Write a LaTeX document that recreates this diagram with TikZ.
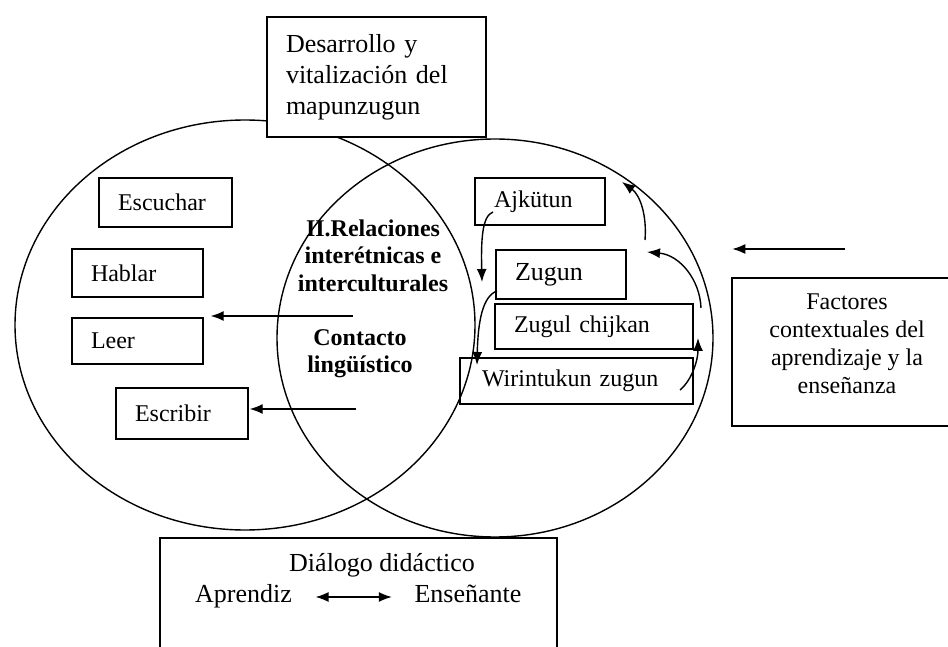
\documentclass[tikz,border=0pt]{standalone}
\usepackage{fontspec}
\setmainfont{Liberation Serif}
\usetikzlibrary{arrows.meta}
\tikzstyle{caja} = [draw, inner xsep=19pt, inner ysep=0pt, align=left, font=\fontsize{24}{28}\selectfont]
\tikzstyle{marco} = [draw, fill=white, inner sep=0pt]
\tikzstyle{texto} = [inner sep=0pt, align=center, font=\fontsize{24}{28}\selectfont]
\tikzstyle{line} = [draw, -{Latex[length=13pt,width=10pt]}]
\tikzstyle{dline} = [draw, {Latex[length=13pt,width=10pt]}-{Latex[length=13pt,width=10pt]}]

\begin{document}
\begin{tikzpicture}[x=1pt, y=1pt, line width=1.4pt]
\useasboundingbox (0,0) rectangle (948,646);
\draw (245,321) ellipse [x radius=230, y radius=205];
\draw (495,308) ellipse [x radius=218, y radius=199];
\node[caja, fill=white, text width=181pt, minimum height=120pt, font=\fontsize{26}{31}\selectfont] (desarrollo) at (376.5,569) {Desarrollo y\\vitalización del\\mapunzugun};
\node[caja, text width=95pt, minimum height=49pt] (escuchar) at (165.5,443.5) {Escuchar};
\node[caja, text width=93pt, minimum height=48pt] (hablar) at (137.5,373) {Hablar};
\node[caja, text width=93pt, minimum height=46pt] (leer) at (137.5,305) {Leer};
\node[caja, text width=94pt, minimum height=51pt] (escribir) at (182,232.5) {Escribir};
\node[texto, font=\bfseries\fontsize{24}{27.5}\selectfont] (relaciones) at (373,390.5) {II.Relaciones\\interétnicas e\\interculturales};
\node[texto, font=\bfseries\fontsize{24}{27.5}\selectfont] (contacto) at (360,292.5) {Contacto\\lingüístico};
\node[caja, text width=92pt, minimum height=47pt] (ajkutun) at (540,444.5) {Ajkütun};
\node[caja, text width=92pt, minimum height=49pt, font=\fontsize{26}{30}\selectfont] (zugun) at (561,371.5) {Zugun};
\node[caja, text width=160pt, minimum height=45pt] (zugul) at (594,319.5) {Zugul chijkan};
\node[caja, text width=189pt, inner xsep=22pt, minimum height=46pt] (wirintukun) at (576.5,265) {Wirintukun zugun};
\node[marco, minimum width=230pt, minimum height=148pt] (factores) at (847,294) {};
\node[texto] (factores-txt) at (847,302.5) {Factores\\contextuales del\\aprendizaje y la\\enseñanza};
\node[marco, minimum width=397pt, minimum height=140pt] (dialogo) at (358.5,38) {};
\node[texto, anchor=base, font=\fontsize{26}{30}\selectfont] (dialogo-txt) at (382,75) {Diálogo didáctico};
\node[texto, anchor=base, font=\fontsize{26}{30}\selectfont] (aprendiz) at (243.5,44) {Aprendiz};
\node[texto, anchor=base, font=\fontsize{26}{30}\selectfont] (ensenante) at (468,44) {Enseñante};
\coordinate (c1) at (353,330);
\coordinate (c2) at (356,237);
\coordinate (f1) at (845,397);
\coordinate (d1) at (0,49);
\coordinate (k1s) at (493,434);
\coordinate (k1e) at (482,364);
\coordinate (k2s) at (497,355);
\coordinate (k2e) at (477,281);
\coordinate (k3s) at (680,256);
\coordinate (k3e) at (698,308);
\coordinate (k4s) at (701,338);
\coordinate (k4e) at (647,394);
\coordinate (k5s) at (645,406);
\coordinate (k5e) at (622,464);
\draw[line, shorten >=7pt] (c1) -- (c1 -| leer.east);
\draw[line, shorten >=1pt] (c2) -- (c2 -| escribir.east);
\draw[line, shorten >=1pt] (f1) -- (f1 -| factores.west);
\draw[dline, shorten <=23pt, shorten >=22pt] (aprendiz.east |- d1) -- (ensenante.west |- d1);
\draw[line] (k1s) .. controls (482,430) and (481,406) .. (k1e);
\draw[line] (k2s) .. controls (483,350) and (478,326) .. (k2e);
\draw[line] (k3s) .. controls (692,266) and (698,286) .. (k3e);
\draw[line] (k4s) .. controls (700,366) and (680,391) .. (k4e);
\draw[line] (k5s) .. controls (647,431) and (640,451) .. (k5e);
\end{tikzpicture}
\end{document}
